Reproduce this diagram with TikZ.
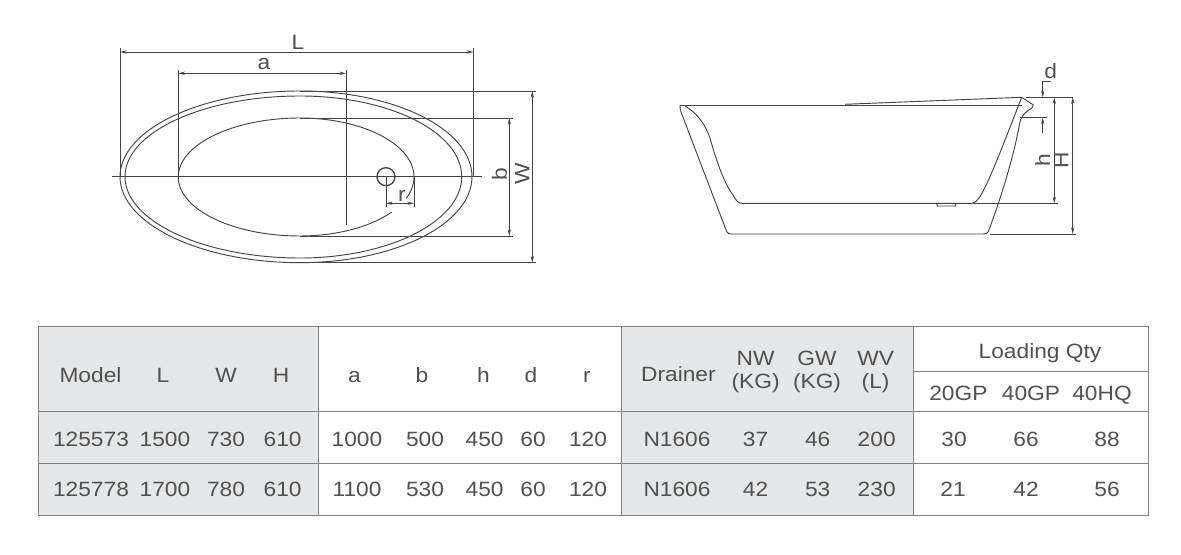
\documentclass[tikz,border=0pt]{standalone}
\usepackage{fontspec}
\setmainfont[FakeStretch=1.1]{Liberation Sans}
\usetikzlibrary{arrows.meta}
\definecolor{ink}{HTML}{505050}
\definecolor{drawing}{HTML}{444444}
\definecolor{rulegray}{HTML}{808284}
\definecolor{cellgray}{HTML}{E6E7E8}
\tikzset{
  outline/.style={draw=drawing,line width=0.7pt,line join=round},
  extline/.style={draw=drawing,line width=0.5pt},
  dimline/.style={draw=drawing,line width=0.5pt,{Stealth[length=5pt,width=2.4pt]}-{Stealth[length=5pt,width=2.4pt]}},
  leader/.style={draw=drawing,line width=0.5pt,-{Stealth[length=5pt,width=2.4pt]}},
  lbl/.style={text=ink,font=\fontsize{15.5pt}{18pt}\selectfont,inner sep=0pt,text height=11.1pt,text depth=0pt},
  vlbl/.style={lbl,rotate=90},
  cell/.style={lbl,anchor=center},
  tablerule/.style={draw=rulegray,line width=0.75pt},
}
\begin{document}
\begin{tikzpicture}[x=0.75pt,y=-0.75pt]
\useasboundingbox (0,0) rectangle (1181,555);
\fill[white] (0,0) rectangle (1181,555);

% ---------- plan view ----------
\draw[outline] (300,91) .. controls (201,91) and (120,129.5) .. (120,176.7)
  .. controls (120,223.9) and (201,262.7) .. (300,262.7)
  .. controls (395,262.7) and (472,223.9) .. (472,176.7)
  .. controls (472,129.5) and (395,91) .. (300,91) -- cycle;
\draw[outline] (300,96) .. controls (204,96) and (125,132) .. (125,176.7)
  .. controls (125,221.4) and (204,258) .. (300,258)
  .. controls (389,258) and (461.7,221.4) .. (461.7,176.7)
  .. controls (461.7,132) and (389,96) .. (300,96) -- cycle;
\draw[outline] (414,177) .. controls (414,144.4) and (362.7,118) .. (300,118)
  .. controls (233,118) and (178.3,144.4) .. (178.3,177)
  .. controls (178.3,209.6) and (233,236) .. (300,236);
\draw[outline] plot[domain=90:36.5,samples=16,smooth] ({300+114*cos(\x)},{177+59*sin(\x)});
\draw[outline] plot[domain=0:21,samples=8,smooth] ({300+114*cos(\x)},{177+59*sin(\x)});
\node[circle,draw=drawing,line width=1pt,minimum size=18pt*0.75,inner sep=0pt] (drain) at (386,176.7) {};

\coordinate (cl) at (111.7,176.7); \coordinate (cr) at (481.7,176.7);
\draw[extline] (cl) -- (cr);
\coordinate (Lt1) at (120,48); \coordinate (Lb1) at (120,176.7);
\coordinate (Lt2) at (473.3,48); \coordinate (Lb2) at (473.3,176.7);
\draw[extline] (Lt1) -- (Lb1); \draw[extline] (Lt2) -- (Lb2);
\coordinate (L1) at (120,52); \coordinate (L2) at (473.3,52);
\draw[dimline] (L1) -- (L2);
\node[lbl] (Llabel) at (298,42) {L};

\coordinate (at1) at (178.3,70); \coordinate (ab1) at (178.3,176.7);
\coordinate (at2) at (346,70); \coordinate (ab2) at (346,225);
\draw[extline] (at1) -- (ab1); \draw[extline] (at2) -- (ab2);
\coordinate (a1) at (178.3,73.3); \coordinate (a2) at (346,73.3);
\draw[dimline] (a1) -- (a2);
\node[lbl] (alabel) at (264,62.6) {a};

\coordinate (Wa1) at (300,91); \coordinate (Wa2) at (535.7,91);
\coordinate (Wb1) at (300,262.7); \coordinate (Wb2) at (535.7,262.7);
\draw[extline] (Wa1) -- (Wa2); \draw[extline] (Wb1) -- (Wb2);
\coordinate (W1) at (532.3,91); \coordinate (W2) at (532.3,262.7);
\draw[dimline] (W1) -- (W2);
\node[vlbl] (Wlabel) at (522,174) {W};

\coordinate (ba1) at (300,118); \coordinate (ba2) at (513,118);
\coordinate (bb1) at (300,236); \coordinate (bb2) at (513,236);
\draw[extline] (ba1) -- (ba2); \draw[extline] (bb1) -- (bb2);
\coordinate (b1) at (509.3,118); \coordinate (b2) at (509.3,236);
\draw[dimline] (b1) -- (b2);
\node[vlbl] (blabel) at (499.5,174) {b};

\coordinate (r1t) at (386,176.7); \coordinate (r1b) at (386,207);
\coordinate (r2t) at (414,177); \coordinate (r2b) at (414,207);
\draw[extline] (r1t) -- (r1b); \draw[extline] (r2t) -- (r2b);
\coordinate (r1) at (386,203.3); \coordinate (r2) at (414,203.3);
\draw[dimline] (r1) -- (r2);
\node[lbl] (rlabel) at (402,194.3) {r};

% ---------- side view ----------
\coordinate (rimL) at (680.7,105); \coordinate (rimR) at (1021.7,105);
\draw[outline] (rimL) -- (rimR);
\coordinate (topA) at (845,104.3); \coordinate (topB) at (1021.7,97.3);
\draw[outline] (topA) -- (topB);
\draw[outline] (rimL) .. controls (679.5,105) and (680,109) .. (681,112)
  -- (726.7,231.7) .. controls (728,233.5) and (729,234) .. (731.7,234)
  -- (983.3,234) .. controls (986,234) and (987.5,233) .. (988.3,231.7)
  .. controls (1002,195) and (1014,155) .. (1019.3,125)
  .. controls (1020.5,118) and (1023,113) .. (1031.7,108.3)
  -- (1033.3,105) -- (topB);
\draw[outline] (685,106) .. controls (697,113) and (705,124) .. (710,138)
  .. controls (716,160) and (724,183) .. (733,195)
  .. controls (736,201) and (738.5,203.3) .. (742,203.3)
  -- (971.7,203.3) .. controls (975,203.3) and (977,200.5) .. (980,196.7)
  .. controls (990,180) and (1003,145) .. (topB);
\draw[outline] (936.7,204) -- (937.5,206) -- (955,206) -- (956,204);

\coordinate (topE1) at (1026,97.3); \coordinate (topE2) at (1073,97.3);
\coordinate (topEm) at (1050,97.3);
\draw[draw=drawing,line width=0.9pt] (topE1) -- (topEm);
\draw[extline] (topEm) -- (topE2);
\coordinate (hE1) at (973,203.3); \coordinate (hE2) at (1058.3,203.3);
\draw[extline] (hE1) -- (hE2);
\coordinate (HE1) at (990,234); \coordinate (HE2) at (1076,234);
\draw[extline] (HE1) -- (HE2);
\coordinate (dE1) at (1020,117.7); \coordinate (dE2) at (1046.7,117.7);
\draw[extline] (dE1) -- (dE2);

\coordinate (h1) at (1054.3,97.3); \coordinate (h2) at (1054.3,203.3);
\draw[dimline] (h1) -- (h2);
\coordinate (H1) at (1072.7,97.3); \coordinate (H2) at (1072.7,234);
\draw[dimline] (H1) -- (H2);
\coordinate (dTop) at (1050.7,81.7); \coordinate (dKnee) at (1042.7,81.7); \coordinate (dArrow) at (1042.7,97.3);
\draw[leader] (dTop) -- (dKnee) -- (dArrow);
\coordinate (dLow) at (1042.7,133.3); \coordinate (dArrow2) at (1042.7,117.7);
\draw[leader] (dLow) -- (dArrow2);
\node[lbl] (dlabel) at (1050.7,71) {d};
\node[vlbl] (hlabel) at (1042.6,160) {h};
\node[vlbl] (Hlabel) at (1061,160) {H};

% ---------- table ----------
\fill[cellgray] (38.5,327) rectangle (318,515);
\fill[cellgray] (621,327) rectangle (913.5,515);
\coordinate (tl) at (38.5,327); \coordinate (tr) at (1148.5,327);
\coordinate (bl) at (38.5,515); \coordinate (br) at (1148.5,515);
\draw[tablerule] (tl) -- (tr) -- (br) -- (bl) -- cycle;
\coordinate (r1l) at (38.5,412); \coordinate (r1r) at (1148.5,412);
\coordinate (r2l) at (38.5,464); \coordinate (r2r) at (1148.5,464);
\draw[tablerule] (r1l) -- (r1r);
\draw[tablerule] (r2l) -- (r2r);
\coordinate (c1t) at (318,327); \coordinate (c1b) at (318,515);
\coordinate (c2t) at (621,327); \coordinate (c2b) at (621,515);
\coordinate (c3t) at (913.5,327); \coordinate (c3b) at (913.5,515);
\draw[tablerule] (c1t) -- (c1b);
\draw[tablerule] (c2t) -- (c2b);
\draw[tablerule] (c3t) -- (c3b);
\coordinate (subl) at (913.5,372); \coordinate (subr) at (1148.5,372);
\draw[tablerule] (subl) -- (subr);

\node[cell] (h01) at (90.5,375.3) {Model};
\node[cell] (h02) at (163,375.3) {L};
\node[cell] (h03) at (226,375.3) {W};
\node[cell] (h04) at (281,375.3) {H};
\node[cell] (h05) at (354.5,375.3) {a};
\node[cell] (h06) at (422,375.3) {b};
\node[cell] (h07) at (483.5,375.3) {h};
\node[cell] (h08) at (531,375.3) {d};
\node[cell] (h09) at (587,375.3) {r};
\node[cell] (h10) at (678.4,374.3) {Drainer};
\node[cell] (h11a) at (755.6,358.6) {NW};
\node[cell] (h11b) at (755.6,381.6) {(KG)};
\node[cell] (h12a) at (817,358.6) {GW};
\node[cell] (h12b) at (817,381.6) {(KG)};
\node[cell] (h13a) at (875.6,358.6) {WV};
\node[cell] (h13b) at (875.6,381.6) {(L)};
\node[cell] (h14) at (1040,351.6) {Loading Qty};
\node[cell] (h15) at (958.4,393.6) {20GP};
\node[cell] (h16) at (1031,393.6) {40GP};
\node[cell] (h17) at (1102,393.6) {40HQ};

\node[cell] (a01) at (91,438.6) {125573};
\node[cell] (a02) at (165,438.6) {1500};
\node[cell] (a03) at (226,438.6) {730};
\node[cell] (a04) at (282.6,438.6) {610};
\node[cell] (a05) at (357,438.6) {1000};
\node[cell] (a06) at (425,438.6) {500};
\node[cell] (a07) at (484.6,438.6) {450};
\node[cell] (a08) at (533,438.6) {60};
\node[cell] (a09) at (588,438.6) {120};
\node[cell] (a10) at (677,438.6) {N1606};
\node[cell] (a11) at (755.6,438.6) {37};
\node[cell] (a12) at (817.7,438.6) {46};
\node[cell] (a13) at (876.7,438.6) {200};
\node[cell] (a14) at (954,438.6) {30};
\node[cell] (a15) at (1026,438.6) {66};
\node[cell] (a16) at (1107,438.6) {88};

\node[cell] (b01) at (91,489.3) {125778};
\node[cell] (b02) at (165,489.3) {1700};
\node[cell] (b03) at (226,489.3) {780};
\node[cell] (b04) at (282.6,489.3) {610};
\node[cell] (b05) at (357,489.3) {1100};
\node[cell] (b06) at (425,489.3) {530};
\node[cell] (b07) at (484.6,489.3) {450};
\node[cell] (b08) at (533,489.3) {60};
\node[cell] (b09) at (588,489.3) {120};
\node[cell] (b10) at (677,489.3) {N1606};
\node[cell] (b11) at (755.6,489.3) {42};
\node[cell] (b12) at (817.7,489.3) {53};
\node[cell] (b13) at (876.7,489.3) {230};
\node[cell] (b14) at (953,489.3) {21};
\node[cell] (b15) at (1026,489.3) {42};
\node[cell] (b16) at (1107,489.3) {56};
\end{tikzpicture}
\end{document}
